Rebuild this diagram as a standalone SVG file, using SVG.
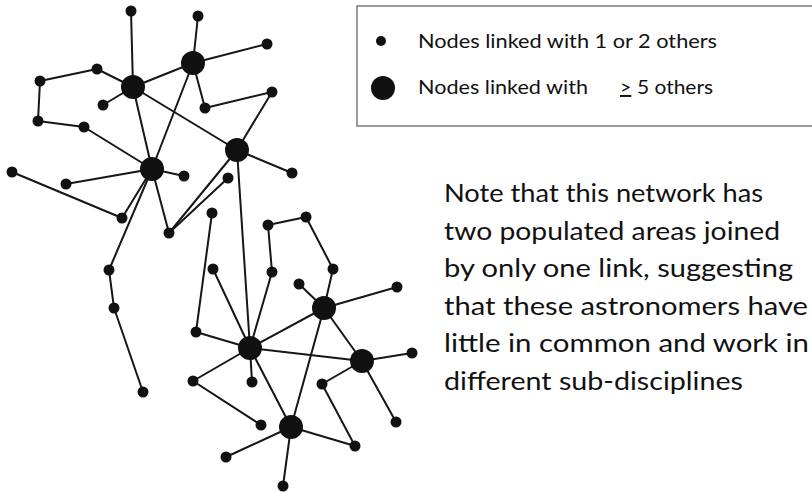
<svg xmlns="http://www.w3.org/2000/svg" width="812" height="492" viewBox="0 0 812 492">
<style>
.e{stroke:#161616;stroke-width:2;fill:none;stroke-linecap:round}
.s{fill:#111}
.h{fill:#111}
.t{font-family:Lato,"Open Sans","Liberation Sans",sans-serif;fill:#111}
</style>
<rect width="812" height="492" fill="#fff"/>
<g id="connectors" class="e">
<line x1="131" y1="11" x2="133" y2="87"/>
<line x1="198" y1="16" x2="193" y2="63"/>
<line x1="193" y1="63" x2="267" y2="44"/>
<line x1="133" y1="87" x2="193" y2="63"/>
<line x1="97" y1="69" x2="133" y2="87"/>
<line x1="97" y1="69" x2="40" y2="81"/>
<line x1="40" y1="81" x2="38" y2="121"/>
<line x1="38" y1="121" x2="84" y2="127"/>
<line x1="84" y1="127" x2="152" y2="169"/>
<line x1="103" y1="105" x2="133" y2="87"/>
<line x1="193" y1="63" x2="205" y2="108"/>
<line x1="205" y1="108" x2="272" y2="92"/>
<line x1="272" y1="92" x2="237" y2="150"/>
<line x1="133" y1="87" x2="237" y2="150"/>
<line x1="133" y1="87" x2="152" y2="169"/>
<line x1="193" y1="63" x2="152" y2="169"/>
<line x1="237" y1="150" x2="292" y2="173"/>
<line x1="152" y1="169" x2="184" y2="176"/>
<line x1="152" y1="169" x2="66" y2="184"/>
<line x1="12" y1="172" x2="122" y2="218"/>
<line x1="152" y1="169" x2="122" y2="218"/>
<line x1="152" y1="169" x2="169" y2="233"/>
<line x1="152" y1="169" x2="109" y2="270"/>
<line x1="109" y1="270" x2="114" y2="308"/>
<line x1="114" y1="308" x2="143" y2="392"/>
<line x1="237" y1="150" x2="169" y2="233"/>
<line x1="228" y1="178" x2="169" y2="233"/>
<line x1="237" y1="150" x2="250" y2="348"/>
<line x1="212" y1="213" x2="196" y2="332"/>
<line x1="196" y1="332" x2="250" y2="348"/>
<line x1="213" y1="269" x2="250" y2="348"/>
<line x1="272" y1="272" x2="250" y2="348"/>
<line x1="268" y1="225" x2="272" y2="272"/>
<line x1="268" y1="225" x2="306" y2="217"/>
<line x1="306" y1="217" x2="333" y2="269"/>
<line x1="333" y1="269" x2="324" y2="308"/>
<line x1="299" y1="284" x2="324" y2="308"/>
<line x1="324" y1="308" x2="397" y2="287"/>
<line x1="250" y1="348" x2="324" y2="308"/>
<line x1="250" y1="348" x2="362" y2="361"/>
<line x1="324" y1="308" x2="362" y2="361"/>
<line x1="362" y1="361" x2="412" y2="353"/>
<line x1="362" y1="361" x2="322" y2="384"/>
<line x1="322" y1="384" x2="355" y2="446"/>
<line x1="362" y1="361" x2="396" y2="422"/>
<line x1="324" y1="308" x2="291" y2="427"/>
<line x1="250" y1="348" x2="193" y2="381"/>
<line x1="193" y1="381" x2="261" y2="425"/>
<line x1="250" y1="348" x2="252" y2="382"/>
<line x1="250" y1="348" x2="291" y2="427"/>
<line x1="291" y1="427" x2="355" y2="446"/>
<line x1="291" y1="427" x2="226" y2="457"/>
<line x1="291" y1="427" x2="283" y2="486"/>
</g>
<g id="hubs" class="h">
<g id="H1"><circle cx="133" cy="87" r="12"/></g>
<g id="H2"><circle cx="193" cy="63" r="12"/></g>
<g id="H3"><circle cx="152" cy="169" r="12"/></g>
<g id="H4"><circle cx="237" cy="150" r="12"/></g>
<g id="L1"><circle cx="250" cy="348" r="12"/></g>
<g id="L2"><circle cx="324" cy="308" r="12"/></g>
<g id="L3"><circle cx="362" cy="361" r="12"/></g>
<g id="L4"><circle cx="291" cy="427" r="12"/></g>
</g>
<g id="small" class="s">
<g id="n1"><circle cx="131" cy="11" r="5.5"/></g>
<g id="n2"><circle cx="198" cy="16" r="5.5"/></g>
<g id="n3"><circle cx="267" cy="44" r="5.5"/></g>
<g id="n4"><circle cx="97" cy="69" r="5.5"/></g>
<g id="n5"><circle cx="40" cy="81" r="5.5"/></g>
<g id="n6"><circle cx="38" cy="121" r="5.5"/></g>
<g id="n7"><circle cx="84" cy="127" r="5.5"/></g>
<g id="n8"><circle cx="103" cy="105" r="5.5"/></g>
<g id="n9"><circle cx="205" cy="108" r="5.5"/></g>
<g id="n10"><circle cx="272" cy="92" r="5.5"/></g>
<g id="n11"><circle cx="292" cy="173" r="5.5"/></g>
<g id="n12"><circle cx="184" cy="176" r="5.5"/></g>
<g id="n13"><circle cx="12" cy="172" r="5.5"/></g>
<g id="n14"><circle cx="66" cy="184" r="5.5"/></g>
<g id="n15"><circle cx="122" cy="218" r="5.5"/></g>
<g id="n16"><circle cx="228" cy="178" r="5.5"/></g>
<g id="n17"><circle cx="169" cy="233" r="5.5"/></g>
<g id="n18"><circle cx="109" cy="270" r="5.5"/></g>
<g id="n19"><circle cx="114" cy="308" r="5.5"/></g>
<g id="n20"><circle cx="143" cy="392" r="5.5"/></g>
<g id="n21"><circle cx="212" cy="213" r="5.5"/></g>
<g id="n22"><circle cx="196" cy="332" r="5.5"/></g>
<g id="n23"><circle cx="268" cy="225" r="5.5"/></g>
<g id="n24"><circle cx="306" cy="217" r="5.5"/></g>
<g id="n25"><circle cx="213" cy="269" r="5.5"/></g>
<g id="n26"><circle cx="272" cy="272" r="5.5"/></g>
<g id="n27"><circle cx="333" cy="269" r="5.5"/></g>
<g id="n28"><circle cx="299" cy="284" r="5.5"/></g>
<g id="n29"><circle cx="397" cy="287" r="5.5"/></g>
<g id="n30"><circle cx="412" cy="353" r="5.5"/></g>
<g id="n31"><circle cx="193" cy="381" r="5.5"/></g>
<g id="n32"><circle cx="252" cy="382" r="5.5"/></g>
<g id="n33"><circle cx="322" cy="384" r="5.5"/></g>
<g id="n34"><circle cx="261" cy="425" r="5.5"/></g>
<g id="n35"><circle cx="396" cy="422" r="5.5"/></g>
<g id="n36"><circle cx="355" cy="446" r="5.5"/></g>
<g id="n37"><circle cx="226" cy="457" r="5.5"/></g>
<g id="n38"><circle cx="283" cy="486" r="5.5"/></g>
</g>
<g id="legend">
<rect x="357" y="6" width="462" height="120" fill="none" stroke="#7a7a7a" stroke-width="1.5"/>
<circle cx="381" cy="41" r="5" fill="#111"/>
<circle cx="383" cy="88" r="12" fill="#111"/>
<text class="t" x="418" y="48" font-size="19.5" textLength="299" lengthAdjust="spacingAndGlyphs">Nodes linked with 1 or 2 others</text>
<text class="t" x="418" y="94" font-size="19.5" textLength="170" lengthAdjust="spacingAndGlyphs">Nodes linked with</text>
<text class="t" x="620" y="94" font-size="19.5" text-decoration="underline">&gt;</text>
<text class="t" x="637" y="94" font-size="19.5" textLength="76" lengthAdjust="spacingAndGlyphs">5 others</text>
</g>
<g id="note" class="t" font-size="25">
<text x="444" y="202" textLength="319" lengthAdjust="spacingAndGlyphs">Note that this network has</text>
<text x="444" y="239.5" textLength="336" lengthAdjust="spacingAndGlyphs">two populated areas joined</text>
<text x="444" y="277" textLength="349" lengthAdjust="spacingAndGlyphs">by only one link, suggesting</text>
<text x="444" y="314.5" textLength="364" lengthAdjust="spacingAndGlyphs">that these astronomers have</text>
<text x="444" y="352" textLength="365" lengthAdjust="spacingAndGlyphs">little in common and work in</text>
<text x="444" y="389.5" textLength="299" lengthAdjust="spacingAndGlyphs">different sub-disciplines</text>
</g>
</svg>
